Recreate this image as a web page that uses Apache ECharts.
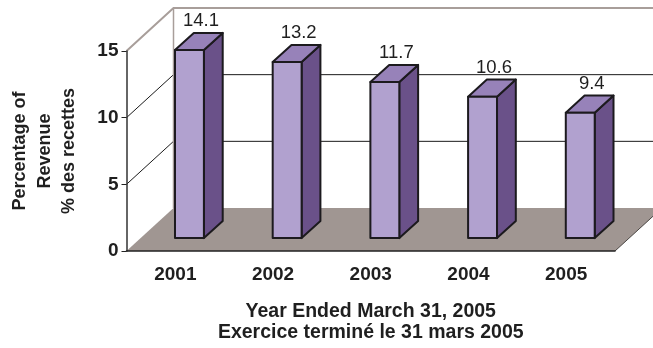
<!DOCTYPE html>
<html>
<head>
<meta charset="utf-8">
<script src="https://cdn.jsdelivr.net/npm/echarts@6/dist/echarts.min.js"></script>
<style>
  html, body { margin: 0; padding: 0; background: #fff; }
  #chart { width: 653px; height: 348px; }
</style>
</head>
<body>
<div id="chart"></div>
<script>
// Fiscal years and the share of revenue for each year (%)
const years = ['2001', '2002', '2003', '2004', '2005'];
const revenueShare = [14.1, 13.2, 11.7, 10.6, 9.4];
const yTicks = [0, 5, 10, 15];

const yAxisTitle = 'Percentage of\nRevenue\n% des recettes';
const xAxisTitle = 'Year Ended March 31, 2005\nExercice terminé le 31 mars 2005';

// Oblique projection of the depth axis (pixels from front plane to back wall)
const DEPTH_X = 47;
const DEPTH_Y = 43;
// Bars occupy the middle part of the depth
const BAR_NEAR = 0.3;
const BAR_FAR = 0.7;
const BAR_WIDTH_RATIO = 0.296;

const FONT = '"Liberation Sans", Arial, Helvetica, sans-serif';
const COLORS = {
  front: '#b1a1cf',
  side: '#6a5189',
  top: '#9782b9',
  outline: '#1c1a1e',
  floor: '#a09692',
  wallEdge: '#a89e9a',
  grid: '#1a1a1a',
  text: '#1f1f1f'
};

const yMin = yTicks[0];
const yMax = yTicks[yTicks.length - 1];
const yStep = yTicks[1] - yTicks[0];

// Back wall, side wall, floor and gridlines of the 3-D box
function renderWalls(params, api) {
  const cs = params.coordSys;
  const x0 = cs.x, x1 = cs.x + cs.width;
  const yAt = v => api.coord([0, v])[1];
  const yBottom = yAt(yMin), yTop = yAt(yMax);
  const farRight = x1 + DEPTH_X + 20;
  const children = [];

  // back wall + left wall (white)
  children.push({
    type: 'polygon',
    shape: { points: [[x0, yTop], [x0 + DEPTH_X, yTop - DEPTH_Y], [farRight, yTop - DEPTH_Y],
                      [farRight, yBottom - DEPTH_Y], [x0 + DEPTH_X, yBottom - DEPTH_Y], [x0, yBottom]] },
    style: { fill: '#ffffff' }
  });

  // gridlines across left wall and back wall
  yTicks.forEach(v => {
    if (v === yMin || v === yMax) return;
    const y = yAt(v);
    children.push({
      type: 'polyline',
      shape: { points: [[x0, y], [x0 + DEPTH_X, y - DEPTH_Y], [farRight, y - DEPTH_Y]] },
      style: { stroke: COLORS.grid, lineWidth: 1, fill: null }
    });
  });

  // wall frame
  children.push({
    type: 'polyline',
    shape: { points: [[x0, yTop], [x0 + DEPTH_X, yTop - DEPTH_Y], [farRight, yTop - DEPTH_Y]] },
    style: { stroke: COLORS.wallEdge, lineWidth: 2, fill: null }
  });
  children.push({
    type: 'line',
    shape: { x1: x0 + DEPTH_X, y1: yTop - DEPTH_Y, x2: x0 + DEPTH_X, y2: yBottom - DEPTH_Y },
    style: { stroke: COLORS.wallEdge, lineWidth: 1.5 }
  });

  // floor
  children.push({
    type: 'polygon',
    shape: { points: [[x0, yBottom], [x1, yBottom], [x1 + DEPTH_X, yBottom - DEPTH_Y], [x0 + DEPTH_X, yBottom - DEPTH_Y]] },
    style: { fill: COLORS.floor }
  });
  children.push({
    type: 'line',
    shape: { x1: x1, y1: yBottom, x2: x1 + DEPTH_X, y2: yBottom - DEPTH_Y },
    style: { stroke: '#4a4542', lineWidth: 1 }
  });

  return { type: 'group', children: children };
}

// 3-D box for one bar plus its value label
function renderBar(params, api) {
  const idx = api.value(0);
  const val = api.value(1);
  const base = api.coord([idx, 0]);
  const top = api.coord([idx, val]);
  const band = api.size([1, 0])[0];
  const w = band * BAR_WIDTH_RATIO;
  const nx = BAR_NEAR * DEPTH_X, ny = BAR_NEAR * DEPTH_Y;
  const dx = (BAR_FAR - BAR_NEAR) * DEPTH_X, dy = (BAR_FAR - BAR_NEAR) * DEPTH_Y;
  const left = base[0] + nx - w / 2;
  const right = left + w;
  const yb = base[1] - ny;
  const yt = top[1] - ny;
  const stroke = { stroke: COLORS.outline, lineWidth: 2, lineJoin: 'round' };

  return {
    type: 'group',
    children: [
      {
        type: 'polygon',
        shape: { points: [[right, yt], [right + dx, yt - dy], [right + dx, yb - dy], [right, yb]] },
        style: Object.assign({ fill: COLORS.side }, stroke)
      },
      {
        type: 'polygon',
        shape: { points: [[left, yt], [left + dx, yt - dy], [right + dx, yt - dy], [right, yt]] },
        style: Object.assign({ fill: COLORS.top }, stroke)
      },
      {
        type: 'rect',
        shape: { x: left, y: yt, width: w, height: yb - yt },
        style: Object.assign({ fill: COLORS.front }, stroke)
      },
      {
        type: 'text',
        style: {
          text: String(val),
          x: left + w / 2 + 11.5,
          y: yt - 29,
          align: 'center',
          verticalAlign: 'middle',
          fill: COLORS.text,
          font: '18.5px ' + FONT
        }
      }
    ]
  };
}

const chart = echarts.init(document.getElementById('chart'), null, { renderer: 'canvas' });

chart.setOption({
  animation: false,
  backgroundColor: '#ffffff',
  grid: { left: 125, right: 38, top: 51, bottom: 96 },
  xAxis: {
    type: 'category',
    data: years,
    z: 5,
    axisLine: { lineStyle: { color: '#222', width: 1.5 } },
    axisTick: { length: 5, lineStyle: { color: '#222' } },
    axisLabel: { margin: 14, fontSize: 19, fontWeight: 'bold', color: COLORS.text, fontFamily: FONT },
    name: xAxisTitle,
    nameLocation: 'middle',
    nameGap: 50,
    nameTextStyle: { fontSize: 19.5, fontWeight: 'bold', lineHeight: 21, color: COLORS.text, fontFamily: FONT }
  },
  yAxis: {
    type: 'value',
    min: yMin,
    max: yMax,
    interval: yStep,
    z: 5,
    axisLine: { show: true, lineStyle: { color: '#333', width: 1.5 } },
    axisTick: { show: true, length: 5, lineStyle: { color: '#222' } },
    splitLine: { show: false },
    axisLabel: { margin: 8, fontSize: 19, fontWeight: 'bold', color: COLORS.text, fontFamily: FONT },
    name: yAxisTitle,
    nameLocation: 'middle',
    nameRotate: 90,
    nameGap: 45,
    nameTextStyle: { fontSize: 18, fontWeight: 'bold', lineHeight: 24.5, color: COLORS.text, fontFamily: FONT }
  },
  series: [
    {
      type: 'custom',
      name: 'walls',
      z: 1,
      silent: true,
      renderItem: renderWalls,
      data: [[0, yMin]]
    },
    {
      type: 'custom',
      name: 'share',
      z: 3,
      renderItem: renderBar,
      data: years.map((y, i) => [i, revenueShare[i]])
    }
  ]
});
</script>
</body>
</html>
